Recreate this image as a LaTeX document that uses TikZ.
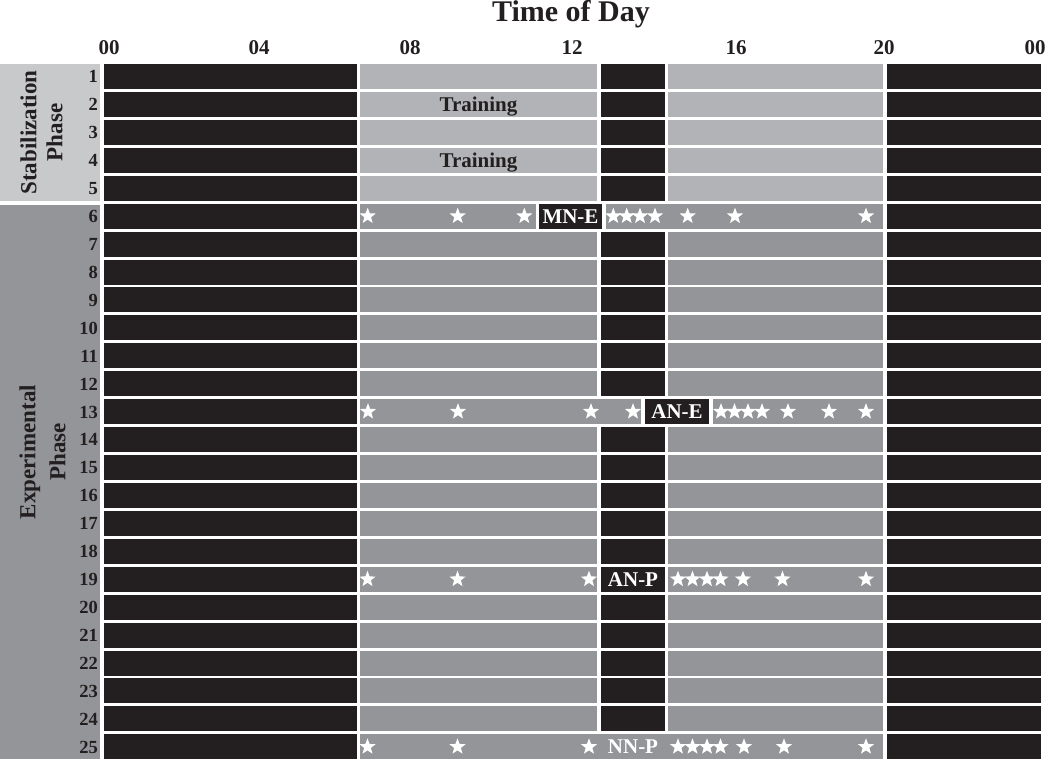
\documentclass[tikz,border=0pt]{standalone}
\usepackage{fontspec}
\setmainfont{Liberation Serif}
\usetikzlibrary{shapes.geometric}

\definecolor{nightblack}{HTML}{231F20}
\definecolor{stablight}{HTML}{B1B3B6}
\definecolor{exptgrey}{HTML}{939598}
\definecolor{stabpanel}{HTML}{C8C9CB}

\tikzset{
  night/.style={fill=nightblack},
  hourlabel/.style={anchor=base, text=nightblack, font=\fontsize{21}{21}\selectfont\bfseries},
  daynum/.style={anchor=base east, text=nightblack, inner sep=0pt, font=\fontsize{18.5}{18.5}\selectfont\bfseries},
  phaselabel/.style={rotate=90, align=center, text=nightblack, inner sep=0pt},
  trainlabel/.style={anchor=base, text=nightblack, font=\fontsize{21}{21}\selectfont\bfseries},
  eventbox/.style={fill=nightblack, text=white, inner sep=0pt, minimum width=63pt, minimum height=25pt, font=\fontsize{21}{21}\selectfont\bfseries},
  eventtext/.style={text=white, inner sep=0pt, font=\fontsize{21}{21}\selectfont\bfseries},
  wstar/.style={star, star points=5, star point ratio=2.4, fill=white, draw=none, inner sep=0pt, minimum size=17pt},
}

\begin{document}
\begin{tikzpicture}[x=1pt, y=-1pt]
    \useasboundingbox (0,0) rectangle (1050,762);
    % Title and hour scale
    \node[anchor=base, text=nightblack, font=\fontsize{30}{30}\selectfont\bfseries] (title) at (571,21.5) {Time of Day};
    \foreach \hx/\hr [count=\k] in {109/00, 259/04, 410/08, 572/12, 736/16, 884/20, 1035/00}
        \node[hourlabel] (hour\k) at (\hx,55) {\hr};
    % Phase panels on the left
    \fill[stabpanel] (0,64) rectangle (100,200.7);
    \fill[exptgrey] (0,205) rectangle (100,759);
    \node[phaselabel, font=\fontsize{23}{26}\selectfont\bfseries] (stab) at (41.5,132.5) {Stabilization\\Phase};
    \node[phaselabel, font=\fontsize{23}{30}\selectfont\bfseries] (expt) at (42.5,452) {Experimental\\Phase};
    % Dark periods at both ends of every day
    \foreach \r in {1,...,25} {
        \pgfmathsetmacro\yt{64+(\r-1)*27.93}
        \fill[night] (104,\yt) rectangle (357,\yt+25);
        \fill[night] (887,\yt) rectangle (1041,\yt+25);
        \node[daynum] (day\r) at (98,\yt+18.9) {\r};
    }
    % Ordinary days: light, midday dark, light
    \foreach \r in {1,2,3,4,5,7,8,9,10,11,12,14,15,16,17,18,19,20,21,22,23,24} {
        \pgfmathsetmacro\yt{64+(\r-1)*27.93}
        \ifnum\r<6 \def\lit{stablight}\else\def\lit{exptgrey}\fi
        \fill[fill=\lit] (360,\yt) rectangle (597,\yt+25);
        \fill[night] (601,\yt) rectangle (665,\yt+25);
        \fill[fill=\lit] (668,\yt) rectangle (883,\yt+25);
    }
    % Training sessions
    \node[trainlabel] (train2) at (478.5,64+27.93+19.8) {Training};
    \node[trainlabel] (train4) at (478.5,64+3*27.93+19.8) {Training};
    % Day 6: MN-E
    \pgfmathsetmacro\yrow{64+5*27.93}
    \fill[exptgrey] (360,\yrow) rectangle (536,\yrow+25);
    \fill[exptgrey] (606,\yrow) rectangle (883,\yrow+25);
    \node[eventbox] (mne) at (570.5,\yrow+12.5) {MN-E};
    \foreach \sx [count=\k] in {367.7,457.7,524.3,613.3,626.7,640,655,687.7,735,866}
        \node[wstar] (star6-\k) at (\sx,\yrow+12.5) {};
    % Day 13: AN-E
    \pgfmathsetmacro\yrow{64+12*27.93}
    \fill[exptgrey] (360,\yrow) rectangle (641,\yrow+25);
    \fill[exptgrey] (712.6,\yrow) rectangle (883,\yrow+25);
    \node[eventbox, minimum width=64pt] (ane) at (677,\yrow+12.5) {AN-E};
    \foreach \sx [count=\k] in {368,458,591,633,721,734.5,748,762,788,829,866}
        \node[wstar] (star13-\k) at (\sx,\yrow+12.5) {};
    % Day 19: AN-P
    \pgfmathsetmacro\yrow{64+18*27.93}
    \node[eventtext] (anp) at (633,\yrow+12.5) {AN-P};
    \foreach \sx [count=\k] in {367.5,457.5,589,678,692.5,707,720.5,743,782.5,866}
        \node[wstar] (star19-\k) at (\sx,\yrow+12.5) {};
    % Day 25: NN-P
    \pgfmathsetmacro\yrow{64+24*27.93}
    \fill[exptgrey] (360,\yrow) rectangle (883,\yrow+25);
    \node[eventtext] (nnp) at (633,\yrow+12.5) {NN-P};
    \foreach \sx [count=\k] in {367.5,457.5,589,678,692.5,707,720.5,744,784,866}
        \node[wstar] (star25-\k) at (\sx,\yrow+12.5) {};
\end{tikzpicture}
\end{document}
